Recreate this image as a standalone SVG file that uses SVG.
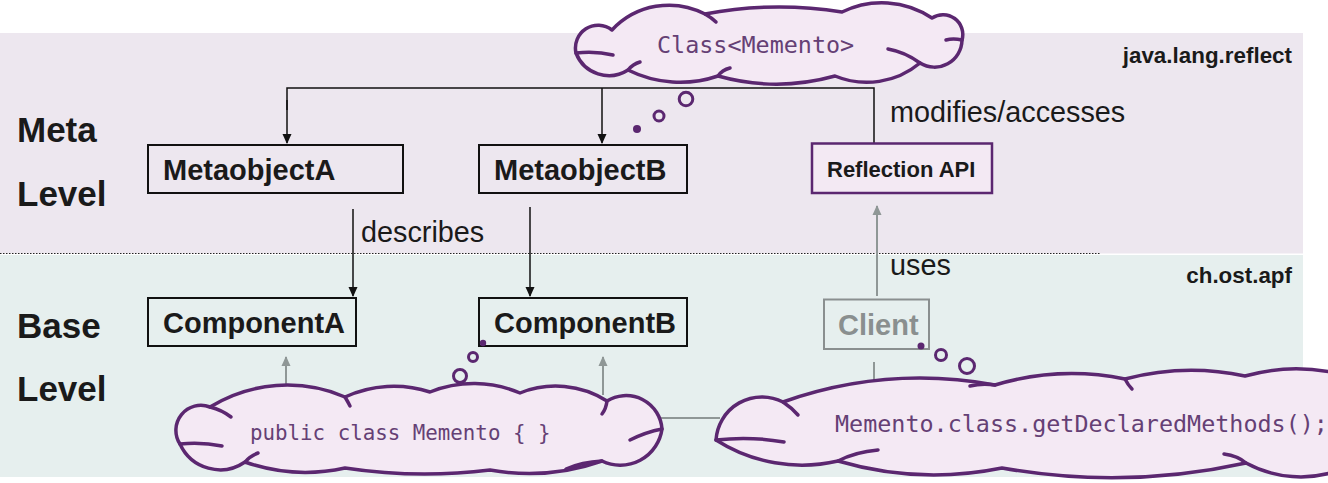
<svg xmlns="http://www.w3.org/2000/svg" width="1328" height="483" viewBox="0 0 1328 483">
<defs>
<style>
.lvl{font-family:"Liberation Sans",Arial,sans-serif;font-weight:bold;font-size:35px;fill:#1a1a1a}
.pkg{font-family:"Liberation Sans",Arial,sans-serif;font-weight:bold;font-size:22.4px;fill:#1a1a1a}
.lbl{font-family:"Liberation Sans",Arial,sans-serif;font-size:28.8px;fill:#1a1a1a}
.box{fill:none;stroke:#111;stroke-width:2}
.bt{font-family:"Liberation Sans",Arial,sans-serif;font-weight:bold;font-size:29px;fill:#1a1a1a}
.code{font-family:"DejaVu Sans Mono","Liberation Mono",monospace;fill:#654075}
.cloud{fill:#f4e9f4;stroke:#5b2770;stroke-width:3.5;stroke-linejoin:round}
.curl{fill:none;stroke:#5b2770;stroke-width:3.5;stroke-linecap:round}
.bub{fill:none;stroke:#5b2770;stroke-width:3}
.dot{fill:#5b2770}
.blk{fill:none;stroke:#111;stroke-width:1.5}
.gry{fill:none;stroke:#8f9796;stroke-width:2}
</style>
<marker id="ab" markerWidth="10" markerHeight="10" refX="9" refY="5" orient="auto" markerUnits="userSpaceOnUse">
<path d="M0,0.5 L10,5 L0,9.5 Z" fill="#111"/>
</marker>
<marker id="ag" markerWidth="10" markerHeight="10" refX="9" refY="5" orient="auto" markerUnits="userSpaceOnUse">
<path d="M0,0.5 L10,5 L0,9.5 Z" fill="#8f9796"/>
</marker>
</defs>

<g id="bands">
<rect x="0" y="33" width="1303" height="220.5" fill="#ede7ef"/>
<rect x="0" y="255" width="1303" height="222" fill="#e6efee"/>
<line x1="0" y1="253.5" x2="1100" y2="253.5" stroke="#222" stroke-width="1" stroke-dasharray="1.5,1.5"/>
<text class="lvl" x="17" y="142">Meta</text>
<text class="lvl" x="17" y="206">Level</text>
<text class="lvl" x="17" y="338">Base</text>
<text class="lvl" x="17" y="401">Level</text>
<text class="pkg" x="1292" y="63" text-anchor="end">java.lang.reflect</text>
<text class="pkg" x="1292" y="283" text-anchor="end">ch.ost.apf</text>
</g>

<g id="connectors">
<polyline class="blk" points="287,110 287,88 874,88 874,143"/>
<line class="blk" x1="287" y1="100" x2="287" y2="143" marker-end="url(#ab)"/>
<line class="blk" x1="602" y1="88" x2="602" y2="143" marker-end="url(#ab)"/>
<line class="blk" x1="353" y1="209" x2="353" y2="296" marker-end="url(#ab)"/>
<line class="blk" x1="530" y1="207" x2="530" y2="296" marker-end="url(#ab)"/>
<line class="gry" x1="877" y1="296" x2="877" y2="206" marker-end="url(#ag)"/>
<line class="gry" x1="286" y1="395" x2="286" y2="357" marker-end="url(#ag)"/>
<line class="gry" x1="603" y1="395" x2="603" y2="357" marker-end="url(#ag)"/>
<line class="gry" x1="640" y1="418" x2="720" y2="418"/>
<line class="gry" x1="874" y1="362" x2="874" y2="392"/>
<text class="lbl" x="361" y="242">describes</text>
<text class="lbl" x="890" y="122">modifies/accesses</text>
<text class="lbl" x="890" y="275">uses</text>
</g>

<g id="MetaobjectA">
<rect class="box" x="148" y="145" width="255" height="48"/>
<text class="bt" x="163" y="180">MetaobjectA</text>
</g>
<g id="MetaobjectB">
<rect class="box" x="479" y="145" width="208" height="48"/>
<text class="bt" x="494" y="180">MetaobjectB</text>
</g>
<g id="ReflectionAPI">
<rect x="812" y="143.5" width="180" height="49.5" fill="#f3e9f3" stroke="#5b2770" stroke-width="2.5"/>
<text class="bt" x="827" y="177" style="font-size:22px">Reflection API</text>
</g>
<g id="ComponentA">
<rect class="box" x="148" y="298" width="208" height="48"/>
<text class="bt" x="163" y="333">ComponentA</text>
</g>
<g id="ComponentB">
<rect class="box" x="479" y="298" width="208" height="48"/>
<text class="bt" x="494" y="333">ComponentB</text>
</g>
<g id="Client">
<rect x="824" y="299.5" width="105" height="49.5" fill="none" stroke="#8a8f8f" stroke-width="2"/>
<text class="bt" x="838" y="335" style="fill:#8a8f8f">Client</text>
</g>

<g id="cloud-class">
<path class="cloud" d="M576,53 A22.7,22.7 0 0 1 612,30 A78,78 0 0 1 705,14 A394,394 0 0 1 842,12 A90,90 0 0 1 932,18 A19.8,19.8 0 0 1 962,40 A27.5,27.5 0 0 1 920,63 A83,83 0 0 1 835,76 A218,218 0 0 1 718,76 A117,117 0 0 1 628,70 A35.3,35.3 0 0 1 576,53 Z"/>
<path class="curl" d="M576,53 Q596,51 613,55"/>
<path class="curl" d="M962,40 Q953,38 946,40"/>
<path class="curl" d="M920,63 Q905,52 888,49"/>
<path class="curl" d="M628,70 Q633,64 640,62"/>
<path class="curl" d="M718,76 Q722,70 730,68"/>
<path class="curl" d="M705,14 Q712,18 716,22"/>
<text class="code" x="657" y="53" style="font-size:23.4px">Class&lt;Memento&gt;</text>
<circle class="dot" cx="637" cy="129" r="4"/>
<circle class="bub" cx="659" cy="116" r="5"/>
<circle class="bub" cx="686" cy="99" r="6.8"/>
</g>

<g id="cloud-memento">
<path class="cloud" d="M180,444 A25,25 0 0 1 210,407 A147,147 0 0 1 345,397 A117,117 0 0 1 430,392 A117,117 0 0 1 520,393 A96,96 0 0 1 607,401 A36,36 0 0 1 662,429 A42,42 0 0 1 602,461 A221,221 0 0 1 490,470 A528,528 0 0 1 345,468 A183,183 0 0 1 245,462 A44,44 0 0 1 180,444 Z"/>
<path class="curl" d="M180,444 Q202,442 222,446"/>
<path class="curl" d="M662,429 Q646,432 630,440"/>
<path class="curl" d="M210,407 Q222,410 231,417"/>
<path class="curl" d="M345,397 Q348,402 350,406"/>
<path class="curl" d="M607,401 Q606,409 602,414"/>
<path class="curl" d="M602,461 Q582,462 566,469"/>
<path class="curl" d="M245,462 Q250,456 258,453"/>
<text class="code" x="250" y="440" style="font-size:20.8px">public class Memento { }</text>
<circle class="dot" cx="483" cy="343" r="3.2"/>
<circle class="bub" cx="473" cy="357" r="4.5"/>
<circle class="bub" cx="460" cy="376" r="6.5"/>
</g>

<g id="cloud-reflect">
<path class="cloud" d="M716,440 A46,46 0 0 1 783,402 A412,412 0 0 1 995,385 A268,268 0 0 1 1125,379 A260,260 0 0 1 1245,376 A191,191 0 0 1 1340,374 L1340,470 A115,115 0 0 1 1246,463 A626,626 0 0 1 1002,468 A341,341 0 0 1 838,461 A160,160 0 0 1 716,440 Z"/>
<path class="curl" d="M716,440 Q750,436 784,442"/>
<path class="curl" d="M995,385 Q982,383 970,386"/>
<path class="curl" d="M783,402 Q792,408 798,415"/>
<path class="curl" d="M838,461 Q855,452 878,450"/>
<path class="curl" d="M1246,463 Q1238,456 1224,454"/>
<path class="curl" d="M1125,379 Q1128,385 1132,389"/>
<text class="code" x="835" y="432" style="font-size:23.4px">Memento.class.getDeclaredMethods();</text>
<circle class="dot" cx="921" cy="346" r="3.5"/>
<circle class="bub" cx="941" cy="355" r="5.5"/>
<circle class="bub" cx="967" cy="366" r="7.5"/>
</g>
</svg>
